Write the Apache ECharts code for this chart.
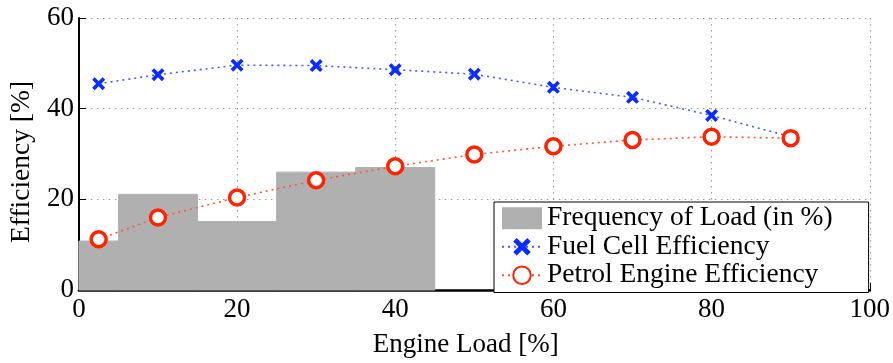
<!DOCTYPE html>
<html>
<head>
<meta charset="utf-8">
<script src="https://cdn.jsdelivr.net/npm/echarts@6/dist/echarts.min.js"></script>
<style>
  html, body { margin: 0; padding: 0; background: #fff; }
  #chart { width: 893px; height: 363px; }
</style>
</head>
<body>
<div id="chart"></div>
<script>
// Histogram of engine load: bin edges and share of time (%)
const binStart = [0, 5, 15, 25, 35];
const binEnd = [5, 15, 25, 35, 45];
const loadFreq = [10.8, 21.1, 15.1, 26.0, 27.0];

// Efficiency curves sampled at these engine loads (%)
const loadPoints = [2.5, 10, 20, 30, 40, 50, 60, 70, 80, 90];
const fuelCell = [45.5, 47.5, 49.6, 49.5, 48.6, 47.6, 44.7, 42.5, 38.5, 33.8];
const petrol = [11.2, 16.0, 20.4, 24.2, 27.3, 29.9, 31.7, 33.1, 33.8, 33.5];

const xTicks = [0, 20, 40, 60, 80, 100];
const yTicks = [0, 20, 40, 60];

const FONT = '"Liberation Serif", "DejaVu Serif", serif';
const crossPath = 'path://M2,0L5,3L8,0L10,2L7,5L10,8L8,10L5,7L2,10L0,8L3,5L0,2Z';

const histData = binStart.map((s, i) => [s, binEnd[i], loadFreq[i]]);
const fuelData = loadPoints.map((x, i) => {
  const item = { value: [x, fuelCell[i]] };
  if (i === loadPoints.length - 1) item.symbol = 'none';
  return item;
});
const petrolData = loadPoints.map((x, i) => [x, petrol[i]]);

const gridLine = { show: true, lineStyle: { color: '#9a9a9a', width: 1, type: [1.5, 4.5] } };

const chart = echarts.init(document.getElementById('chart'), null, { renderer: 'canvas' });
chart.setOption({
  animation: false,
  backgroundColor: '#fff',
  textStyle: { fontFamily: FONT },
  grid: { left: 76, right: 22, top: 18, bottom: 67, containLabel: false },
  xAxis: {
    type: 'value', min: xTicks[0], max: xTicks[xTicks.length - 1], interval: 20,
    name: 'Engine Load [%]', nameLocation: 'middle', nameGap: 41,
    nameTextStyle: { fontFamily: FONT, fontSize: 27, color: '#000', padding: [0, 17, 0, 0] },
    axisLine: { lineStyle: { color: '#000', width: 2.5 } },
    axisTick: { show: true, inside: true, length: 7, lineStyle: { color: '#000', width: 1 } },
    axisLabel: { fontFamily: FONT, fontSize: 27, color: '#000', margin: 6 },
    splitLine: gridLine
  },
  yAxis: {
    type: 'value', min: yTicks[0], max: yTicks[yTicks.length - 1], interval: 20,
    name: 'Efficiency [%]', nameLocation: 'middle', nameGap: 38,
    nameTextStyle: { fontFamily: FONT, fontSize: 27.5, color: '#000', padding: [0, 16, 0, 0] },
    axisLine: { show: true, lineStyle: { color: '#000', width: 2 } },
    axisTick: { show: true, inside: true, length: 7, lineStyle: { color: '#000', width: 1 } },
    axisLabel: { fontFamily: FONT, fontSize: 27, color: '#000', margin: 5 },
    splitLine: gridLine
  },
  legend: {
    orient: 'vertical', left: 494, top: 202,
    padding: [2, 36, 3, 7], itemGap: 0,
    itemWidth: 40, itemHeight: 22,
    backgroundColor: '#fff', borderColor: '#000', borderWidth: 1, borderRadius: 0,
    textStyle: { fontFamily: FONT, fontSize: 27.5, color: '#000', lineHeight: 28.5 },
    data: [
      { name: 'Frequency of Load (in %)', icon: 'rect' },
      { name: 'Fuel Cell Efficiency' },
      { name: 'Petrol Engine Efficiency' }
    ]
  },
  series: [
    {
      name: 'Frequency of Load (in %)',
      type: 'custom',
      data: histData,
      encode: { x: [0, 1], y: 2 },
      itemStyle: { color: '#b0b0b0' },
      z: 1,
      renderItem: function (params, api) {
        const base = api.coord([api.value(0), 0]);
        const top = api.coord([api.value(1), api.value(2)]);
        return {
          type: 'rect',
          shape: { x: base[0], y: top[1], width: top[0] - base[0], height: base[1] - top[1] },
          style: { fill: '#b0b0b0', stroke: '#b0b0b0', lineWidth: 1 }
        };
      }
    },
    {
      name: 'Fuel Cell Efficiency',
      type: 'line',
      data: fuelData,
      symbol: crossPath,
      symbolSize: 13,
      itemStyle: { color: '#0a2cff' },
      lineStyle: { color: '#3d5cff', width: 1.6, type: [2, 4] },
      z: 3
    },
    {
      name: 'Petrol Engine Efficiency',
      type: 'line',
      data: petrolData,
      symbol: 'circle',
      symbolSize: 15,
      itemStyle: { color: '#fff', borderColor: '#ff2200', borderWidth: 3.5 },
      lineStyle: { color: '#ff5533', width: 1.6, type: [2, 4] },
      z: 4
    }
  ]
});
</script>
</body>
</html>
